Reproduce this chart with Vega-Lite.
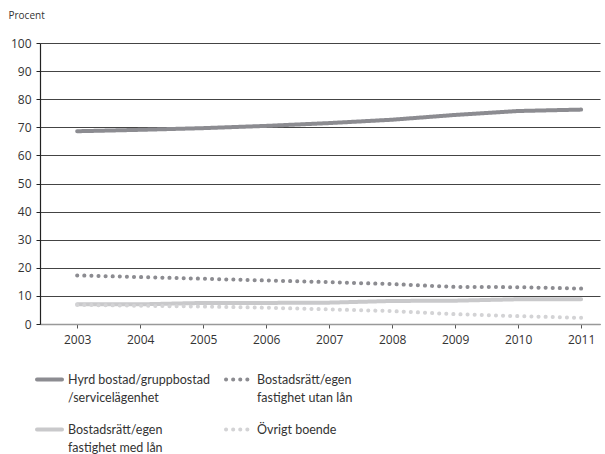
{
  "$schema": "https://vega.github.io/schema/vega-lite/v6.json",
  "width": 560,
  "height": 281,
  "autosize": {"type": "none"},
  "padding": {"left": 40, "top": 43, "right": 5, "bottom": 130},
  "config": {
    "view": {"stroke": null},
    "font": "Open Sans",
    "axis": {"labelFont": "Open Sans", "titleFont": "Open Sans", "labelColor": "#333", "titleColor": "#333"},
    "legend": {"labelFont": "Lato"}
  },
  "data": {
    "values": [
      {"year": 2003, "series": "Hyrd bostad/gruppbostad|/servicelägenhet", "value": 68.6},
      {"year": 2004, "series": "Hyrd bostad/gruppbostad|/servicelägenhet", "value": 69.1},
      {"year": 2005, "series": "Hyrd bostad/gruppbostad|/servicelägenhet", "value": 69.7},
      {"year": 2006, "series": "Hyrd bostad/gruppbostad|/servicelägenhet", "value": 70.5},
      {"year": 2007, "series": "Hyrd bostad/gruppbostad|/servicelägenhet", "value": 71.5},
      {"year": 2008, "series": "Hyrd bostad/gruppbostad|/servicelägenhet", "value": 72.7},
      {"year": 2009, "series": "Hyrd bostad/gruppbostad|/servicelägenhet", "value": 74.4},
      {"year": 2010, "series": "Hyrd bostad/gruppbostad|/servicelägenhet", "value": 75.8},
      {"year": 2011, "series": "Hyrd bostad/gruppbostad|/servicelägenhet", "value": 76.3},
      {"year": 2003, "series": "Bostadsrätt/egen|fastighet utan lån", "value": 17.3},
      {"year": 2004, "series": "Bostadsrätt/egen|fastighet utan lån", "value": 16.7},
      {"year": 2005, "series": "Bostadsrätt/egen|fastighet utan lån", "value": 16.1},
      {"year": 2006, "series": "Bostadsrätt/egen|fastighet utan lån", "value": 15.5},
      {"year": 2007, "series": "Bostadsrätt/egen|fastighet utan lån", "value": 14.9},
      {"year": 2008, "series": "Bostadsrätt/egen|fastighet utan lån", "value": 14.2},
      {"year": 2009, "series": "Bostadsrätt/egen|fastighet utan lån", "value": 13.2},
      {"year": 2010, "series": "Bostadsrätt/egen|fastighet utan lån", "value": 13.1},
      {"year": 2011, "series": "Bostadsrätt/egen|fastighet utan lån", "value": 12.6},
      {"year": 2003, "series": "Bostadsrätt/egen|fastighet med lån", "value": 7.0},
      {"year": 2004, "series": "Bostadsrätt/egen|fastighet med lån", "value": 7.0},
      {"year": 2005, "series": "Bostadsrätt/egen|fastighet med lån", "value": 7.5},
      {"year": 2006, "series": "Bostadsrätt/egen|fastighet med lån", "value": 7.5},
      {"year": 2007, "series": "Bostadsrätt/egen|fastighet med lån", "value": 7.6},
      {"year": 2008, "series": "Bostadsrätt/egen|fastighet med lån", "value": 8.2},
      {"year": 2009, "series": "Bostadsrätt/egen|fastighet med lån", "value": 8.3},
      {"year": 2010, "series": "Bostadsrätt/egen|fastighet med lån", "value": 8.8},
      {"year": 2011, "series": "Bostadsrätt/egen|fastighet med lån", "value": 8.8},
      {"year": 2003, "series": "Övrigt boende", "value": 6.8},
      {"year": 2004, "series": "Övrigt boende", "value": 6.5},
      {"year": 2005, "series": "Övrigt boende", "value": 6.2},
      {"year": 2006, "series": "Övrigt boende", "value": 5.8},
      {"year": 2007, "series": "Övrigt boende", "value": 5.2},
      {"year": 2008, "series": "Övrigt boende", "value": 4.6},
      {"year": 2009, "series": "Övrigt boende", "value": 3.5},
      {"year": 2010, "series": "Övrigt boende", "value": 2.8},
      {"year": 2011, "series": "Övrigt boende", "value": 2.2}
    ]
  },
  "mark": {"type": "line", "strokeCap": "round", "strokeJoin": "round"},
  "encoding": {
    "x": {
      "field": "year", "type": "quantitative",
      "scale": {"domain": [2002.41, 2011.3], "nice": false, "zero": false},
      "axis": {
        "title": null, "values": [2003, 2004, 2005, 2006, 2007, 2008, 2009, 2010, 2011],
        "format": "d", "grid": false, "domainColor": "#999", "domainWidth": 1.5,
        "tickColor": "#555", "tickSize": 4, "labelFontSize": 12, "labelPadding": 6
      }
    },
    "y": {
      "field": "value", "type": "quantitative",
      "scale": {"domain": [0, 100], "nice": false},
      "axis": {
        "values": [0, 10, 20, 30, 40, 50, 60, 70, 80, 90, 100],
        "title": "Procent", "titleAngle": 0, "titleAlign": "left", "titleBaseline": "middle",
        "titleX": -32, "titleY": -28, "titleFontSize": 10, "titleFontWeight": "normal",
        "grid": true, "gridColor": "#444", "gridWidth": 1,
        "domainColor": "#222", "domainWidth": 1.2, "tickColor": "#222", "tickSize": 4,
        "labelFontSize": 12, "labelPadding": 5
      }
    },
    "color": {
      "field": "series", "type": "nominal",
      "scale": {
        "domain": ["Hyrd bostad/gruppbostad|/servicelägenhet", "Bostadsrätt/egen|fastighet med lån", "Bostadsrätt/egen|fastighet utan lån", "Övrigt boende"],
        "range": ["#8c8c91", "#c9c9cb", "#8c8c91", "#d3d3d5"]
      },
      "legend": {
        "title": null, "orient": "none", "legendX": -5, "legendY": 322, "columns": 2,
        "labelExpr": "split(datum.label, '|')", "labelFontSize": 12.5, "labelColor": "#333",
        "labelLimit": 200, "columnPadding": 8, "rowPadding": 11,
        "symbolType": "stroke", "symbolSize": 625, "symbolStrokeWidth": 4, "labelOffset": 4,
        "encode": {
          "symbols": {"update": {"strokeCap": {"value": "round"}}},
          "labels": {"update": {"lineHeight": {"value": 18}}}
        }
      }
    },
    "strokeDash": {
      "field": "series", "type": "nominal",
      "scale": {
        "domain": ["Hyrd bostad/gruppbostad|/servicelägenhet", "Bostadsrätt/egen|fastighet med lån", "Bostadsrätt/egen|fastighet utan lån", "Övrigt boende"],
        "range": [[1, 0], [1, 0], [0.1, 7], [0.1, 7]]
      },
      "legend": null
    },
    "strokeWidth": {"value": 4}
  }
}
